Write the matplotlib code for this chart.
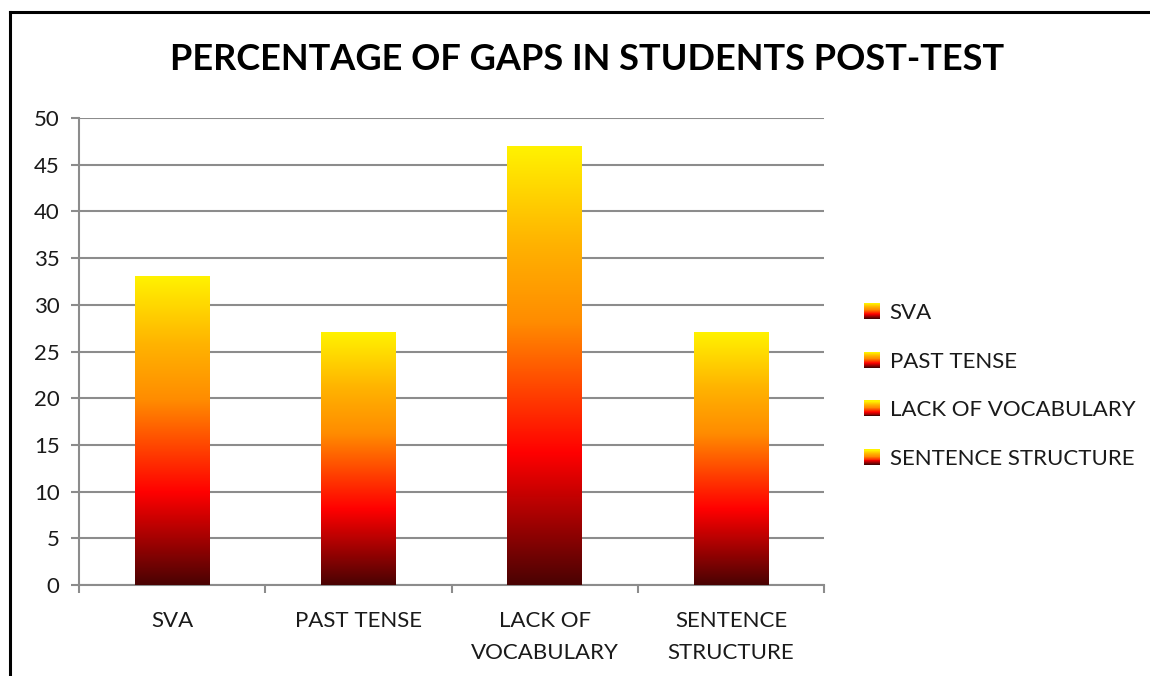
import matplotlib
matplotlib.use('Agg')
import matplotlib.pyplot as plt
import numpy as np
from matplotlib.colors import LinearSegmentedColormap
from matplotlib.patches import Rectangle
from matplotlib.lines import Line2D
from matplotlib.legend_handler import HandlerBase

categories = ['SVA', 'PAST TENSE', 'LACK OF VOCABULARY', 'SENTENCE STRUCTURE']
tick_labels = ['SVA', 'PAST TENSE', 'LACK OF\nVOCABULARY', 'SENTENCE\nSTRUCTURE']
values = [33, 27, 47, 27]
title = 'PERCENTAGE OF GAPS IN STUDENTS POST-TEST'

plt.rcParams['font.family'] = ['Lato', 'DejaVu Sans']

# dark red -> red -> orange -> yellow, bottom to top
fire = LinearSegmentedColormap.from_list('fire', [
    (0.0, '#4a0303'), (0.30, '#ff0000'), (0.60, '#ff8c00'),
    (0.78, '#ffb300'), (1.0, '#fff200')])


class GradientHandler(HandlerBase):
    def create_artists(self, legend, orig_handle, xdescent, ydescent,
                       width, height, fontsize, trans):
        n = 16
        arts = []
        for i in range(n):
            r = Rectangle((-xdescent, -ydescent + height * i / n), width, height / n + 0.3,
                          facecolor=fire(i / (n - 1)), edgecolor='none', transform=trans)
            arts.append(r)
        return arts


fig = plt.figure(figsize=(11.5, 6.76), dpi=100)
ax = fig.add_axes([79 / 1150, 1 - 585 / 676, (824 - 79) / 1150, (585 - 118) / 676])

x = np.arange(len(categories))
bar_w = 0.4
grad = np.linspace(0, 1, 256).reshape(-1, 1)
handles = []
for xi, v, name in zip(x, values, categories):
    ax.imshow(grad, extent=[xi - bar_w / 2, xi + bar_w / 2, 0, v], origin='lower',
              aspect='auto', cmap=fire, zorder=3)
    handles.append(Rectangle((0, 0), 1, 1, label=name))

ax.set_xlim(-0.5, len(categories) - 0.5)
ax.set_ylim(0, 50)
ax.set_yticks(np.arange(0, 51, 5))
ax.yaxis.grid(True, color='#8c8c8c', linewidth=1.5, zorder=0)
ax.set_axisbelow(True)

ax.set_xticks(x)
ax.set_xticklabels(tick_labels, linespacing=1.75)
ax.set_xticks(np.arange(-0.5, len(categories), 1), minor=True)
ax.tick_params(axis='x', which='major', length=0, pad=19, labelsize=16, labelcolor='#1a1a1a')
ax.tick_params(axis='x', which='minor', length=6, width=1.5, color='#8c8c8c')
ax.tick_params(axis='y', length=6, width=1.5, color='#8c8c8c', labelsize=16,
               labelcolor='#1a1a1a', pad=8)

for s in ['top', 'right']:
    ax.spines[s].set_visible(False)
for s in ['left', 'bottom']:
    ax.spines[s].set_color('#8c8c8c')
    ax.spines[s].set_linewidth(1.5)

fig.text(587 / 1150, 1 - 60 / 676, title, ha='center', va='center',
         fontsize=26, fontweight='bold', color='black')

fig.legend(handles=handles, handler_map={Rectangle: GradientHandler()},
           loc='center left', bbox_to_anchor=(844 / 1150, 1 - 386 / 676),
           frameon=False, fontsize=16, labelspacing=1.3, handlelength=0.7,
           handleheight=0.7, handletextpad=0.45, labelcolor='#1a1a1a')

# outer chart border (left and top visible)
fig.add_artist(Line2D([9.5 / 1150, 9.5 / 1150], [0, 1 - 12 / 676], color='black',
                      linewidth=2.2, transform=fig.transFigure))
fig.add_artist(Line2D([9.5 / 1150, 1], [1 - 12 / 676, 1 - 12 / 676], color='black',
                      linewidth=2.2, transform=fig.transFigure))

fig.savefig('out.png', dpi=100)
